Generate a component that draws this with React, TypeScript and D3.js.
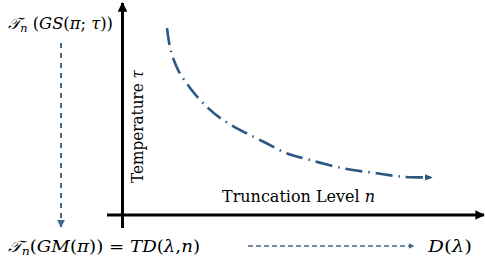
import React from "react";
import * as d3 from "d3";

// Curve (truncation level n vs temperature tau), in axis units 0..100
const curveN = [12.5, 13.5, 15.6, 18.9, 23.5, 28.1, 33.7, 39.3, 45.7, 52.2, 61.5, 70.7, 78.1, 86.1];
const curveTau = [89, 78.6, 69, 60.5, 51.6, 45.2, 39.7, 34.9, 29.4, 26.2, 22.2, 19.9, 18.2, 17.9];

const xLabel = "Truncation Level";
const xVar = "n";
const yLabel = "Temperature";
const yVar = "τ";

const W = 485;
const H = 269;

// Formula pieces: [text, italic?]
const topFormula: [string, boolean][] = [[" (", false], ["GS", true], ["(", false], ["π", true], ["; ", false], ["τ", true], ["))", false]];
const bottomFormula: [string, boolean][] = [["(", false], ["GM", true], ["(", false], ["π", true], [")) = ", false], [" TD", true], ["(", false], ["λ", true], [",", false], ["n", true], [")", false]];

export default function App() {
  const x = d3.scaleLinear().domain([0, 100]).range([122, 482]);
  const y = d3.scaleLinear().domain([0, 100]).range([215, 5]);
  const pts: [number, number][] = curveN.map((n, i) => [x(n), y(curveTau[i])]);
  const line = d3.line().curve(d3.curveCatmullRom.alpha(0.5))(pts) || "";

  const blue = "#2B5883";
  const dashBlue = "#45698D";
  const serif = "'DejaVu Serif', serif";

  const pieces = (arr: [string, boolean][], first: boolean) =>
    arr.map(([t, it], i) => (
      <tspan key={i} fontStyle={it ? "italic" : "normal"} dy={first && i === 0 ? -3 : undefined}>
        {t}
      </tspan>
    ));

  return (
    <svg width={W} height={H} style={{ position: "absolute", left: 0, top: 0, display: "block", background: "#fff" }}>
      <defs>
        <marker id="axArrow" viewBox="0 0 10 10" refX="9" refY="5" markerWidth="3.2" markerHeight="3.2" orient="auto" markerUnits="strokeWidth">
          <path d="M0,0 L10,5 L0,10 z" fill="#000" />
        </marker>
        <marker id="blueArrow" viewBox="0 0 10 10" refX="9" refY="5" markerWidth="3" markerHeight="3" orient="auto" markerUnits="strokeWidth">
          <path d="M0,1 L10,5 L0,9 z" fill={blue} />
        </marker>
        <marker id="dashArrow" viewBox="0 0 10 10" refX="9" refY="5" markerWidth="4" markerHeight="4" orient="auto" markerUnits="strokeWidth">
          <path d="M0,0 L10,5 L0,10 z" fill={dashBlue} />
        </marker>
      </defs>

      {/* axes */}
      <line x1={x(0) + 0.5} y1={228} x2={x(0) + 0.5} y2={3} stroke="#000" strokeWidth={3} markerEnd="url(#axArrow)" />
      <line x1={107} y1={y(0)} x2={484} y2={y(0)} stroke="#000" strokeWidth={3} markerEnd="url(#axArrow)" />

      {/* curve */}
      <path d={line} fill="none" stroke={blue} strokeWidth={2.6} strokeDasharray="17 6 1.5 6" strokeLinecap="butt" markerEnd="url(#blueArrow)" />

      {/* axis labels */}
      <text x={222} y={y(0) - 13} fontFamily={serif} fontSize={16} fill="#000" textLength={153} lengthAdjust="spacingAndGlyphs">
        {xLabel}{" "}<tspan fontStyle="italic">{xVar}</tspan>
      </text>
      <text transform={`translate(143,183) rotate(-90)`} fontFamily={serif} fontSize={16} fill="#000" textLength={113} lengthAdjust="spacingAndGlyphs">
        {yLabel}{" "}<tspan fontStyle="italic">{yVar}</tspan>
      </text>

      {/* top-left formula */}
      <text x={8} y={29} fontFamily={serif} fontSize={16} fill="#000" textLength={105} lengthAdjust="spacingAndGlyphs">
        <tspan fontStyle="italic">𝒯</tspan>
        <tspan fontSize={11} fontStyle="italic" dy={3}>n</tspan>
        {pieces(topFormula, true)}
      </text>

      {/* vertical dashed arrow */}
      <line x1={61} y1={43} x2={61} y2={227} stroke={dashBlue} strokeWidth={2} strokeDasharray="5 5" markerEnd="url(#dashArrow)" />

      {/* bottom formula */}
      <text x={8} y={252} fontFamily={serif} fontSize={16} fill="#000" textLength={192} lengthAdjust="spacingAndGlyphs">
        <tspan fontStyle="italic">𝒯</tspan>
        <tspan fontSize={11} fontStyle="italic" dy={3}>n</tspan>
        {pieces(bottomFormula, true)}
      </text>

      {/* horizontal dashed arrow */}
      <line x1={248} y1={246} x2={414} y2={246} stroke={dashBlue} strokeWidth={1.5} strokeDasharray="5 3" markerEnd="url(#dashArrow)" />

      <text x={428} y={252} fontFamily={serif} fontSize={16} fill="#000" textLength={44} lengthAdjust="spacingAndGlyphs">
        <tspan fontStyle="italic">D</tspan>(<tspan fontStyle="italic">λ</tspan>)
      </text>
    </svg>
  );
}
